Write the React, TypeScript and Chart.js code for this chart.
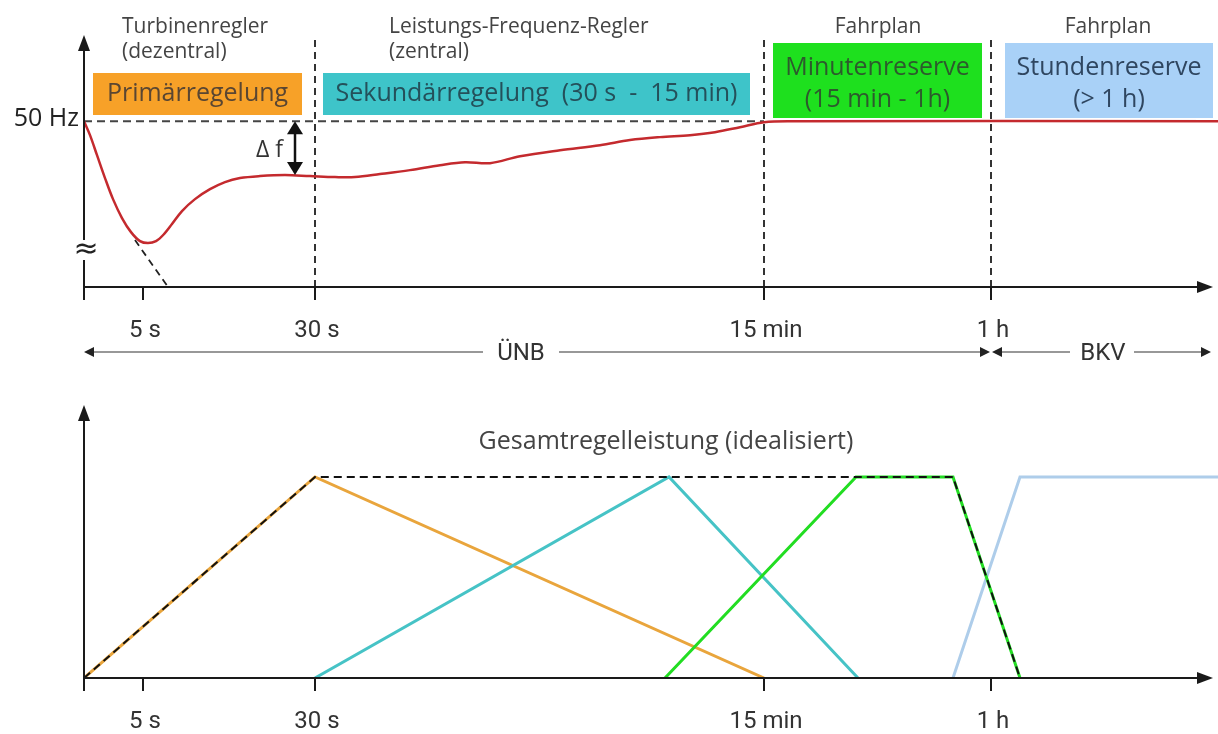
import React, { useEffect, useRef } from "react";
import { Chart, registerables } from "chart.js";
Chart.register(...registerables);

// x units: diagram time positions (non-linear time compressed to a schematic axis)
const xTicks = [0, 59, 231, 680, 907];
const xTickLabels = ["", "5 s", "30 s", "15 min", "1 h"];
const xAxisEnd = 1129;
const xMax = 1134;

// top panel: frequency (50 Hz = 100)
const freqX = [0, 6, 13, 21, 29, 38, 47, 56, 64, 72, 80, 88, 98, 111, 126, 141, 156, 176, 201, 226, 251, 271, 296, 326, 356, 381, 406, 436, 476, 516, 546, 576, 606, 631, 656, 680, 706, 1134];
const freqY = [100, 91.6, 79.5, 65.7, 53.0, 41.6, 33.1, 27.7, 26.5, 27.7, 31.9, 38.0, 45.8, 53.0, 59.0, 63.3, 65.7, 66.9, 67.5, 66.9, 66.3, 66.3, 68.1, 70.5, 73.5, 75.3, 74.7, 78.9, 82.5, 85.5, 88.6, 90.4, 91.6, 93.4, 96.4, 99.4, 100, 100];
const nominalX = [0, 680];
const nominalY = [100, 100];
const extX = [51, 84];
const extY = [28.3, 0];
const dividerX = [231, 680, 907];
const dividerTop = 149;

// bottom panel: control power (100 = full)
const primX = [0, 231, 680];
const primY = [0, 100, 0];
const sekX = [231, 585, 774];
const sekY = [0, 100, 0];
const minX = [581, 772, 869, 936];
const minY = [0, 100, 100, 0];
const stdX = [869, 936, 1134];
const stdY = [0, 100, 100];
const totX = [0, 231, 869, 936];
const totY = [0, 100, 100, 0];

const boxes = [
  { x0: 9, x1: 218, y0: 73, y1: 115, color: "#F7A128", text: ["Primärregelung"], tc: "#5a4632" },
  { x0: 239, x1: 666, y0: 73, y1: 115, color: "#3EC4C9", text: ["Sekundärregelung  (30 s  -  15 min)"], tc: "#24505a" },
  { x0: 689, x1: 898, y0: 43, y1: 118, color: "#1EE01E", text: ["Minutenreserve", "(15 min - 1h)"], tc: "#2d5a2d" },
  { x0: 921, x1: 1129, y0: 43, y1: 118, color: "#A9D1F7", text: ["Stundenreserve", "(> 1 h)"], tc: "#2f4660" },
];

const pts = (xs: number[], ys: number[]) => xs.map((x, i) => ({ x, y: ys[i] }));

const SANS = '"Open Sans", "Noto Sans", sans-serif';
const NARROW = '"Roboto", sans-serif';

function arrowHead(ctx: CanvasRenderingContext2D, x: number, y: number, dir: string, len = 14, half = 6) {
  ctx.beginPath();
  if (dir === "up") { ctx.moveTo(x, y); ctx.lineTo(x - half, y + len); ctx.lineTo(x + half, y + len); }
  if (dir === "down") { ctx.moveTo(x, y); ctx.lineTo(x - half, y - len); ctx.lineTo(x + half, y - len); }
  if (dir === "right") { ctx.moveTo(x, y); ctx.lineTo(x - len, y - half); ctx.lineTo(x - len, y + half); }
  if (dir === "left") { ctx.moveTo(x, y); ctx.lineTo(x + len, y - half); ctx.lineTo(x + len, y + half); }
  ctx.closePath();
  ctx.fill();
}

function drawAxes(chart: any, ctx: CanvasRenderingContext2D, labelY: number) {
  const xs = chart.scales.x, ys = chart.scales.y;
  const x0 = xs.getPixelForValue(0), y0 = ys.getPixelForValue(0);
  const top = chart.chartArea.top;
  ctx.save();
  ctx.strokeStyle = "#1a1a1a"; ctx.fillStyle = "#1a1a1a"; ctx.lineWidth = 2;
  ctx.beginPath(); ctx.moveTo(x0, y0); ctx.lineTo(x0, top + 10); ctx.stroke();
  arrowHead(ctx, x0, top, "up", 16, 6);
  const xe = xs.getPixelForValue(xAxisEnd);
  ctx.beginPath(); ctx.moveTo(x0, y0); ctx.lineTo(xe - 10, y0); ctx.stroke();
  arrowHead(ctx, xe, y0, "right", 16, 6);
  ctx.fillStyle = "#333";
  ctx.font = `24px ${NARROW}`; ctx.textAlign = "center"; ctx.textBaseline = "middle";
  xTicks.forEach((v, i) => {
    const px = xs.getPixelForValue(v);
    ctx.beginPath(); ctx.moveTo(px, y0); ctx.lineTo(px, y0 + 13); ctx.stroke();
    if (xTickLabels[i]) ctx.fillText(xTickLabels[i], px + 2, labelY);
  });
  ctx.restore();
}

const topPlugin = {
  id: "topDeco",
  beforeDatasetsDraw(chart: any) {
    const ctx = chart.ctx as CanvasRenderingContext2D;
    const xs = chart.scales.x;
    ctx.save();
    boxes.forEach((b) => {
      const l = xs.getPixelForValue(b.x0), r = xs.getPixelForValue(b.x1);
      ctx.fillStyle = b.color;
      ctx.fillRect(l, b.y0, r - l, b.y1 - b.y0);
      ctx.fillStyle = b.tc;
      ctx.font = `25px ${SANS}`; ctx.textAlign = "center"; ctx.textBaseline = "middle";
      const cx = (l + r) / 2;
      if (b.text.length === 1) ctx.fillText(b.text[0], cx, (b.y0 + b.y1) / 2);
      else { ctx.fillText(b.text[0], cx, b.y0 + 25); ctx.fillText(b.text[1], cx, b.y0 + 57); }
    });
    ctx.restore();
  },
  afterDatasetsDraw(chart: any) {
    const ctx = chart.ctx as CanvasRenderingContext2D;
    const xs = chart.scales.x, ys = chart.scales.y;
    drawAxes(chart, ctx, 331);
    ctx.save();
    const x0 = xs.getPixelForValue(0);
    // axis break
    ctx.fillStyle = "#fff"; ctx.fillRect(x0 - 6, 240, 12, 20);
    ctx.fillStyle = "#222"; ctx.font = `30px "DejaVu Sans", sans-serif`; ctx.textAlign = "center"; ctx.textBaseline = "middle";
    ctx.fillText("≈", x0 + 2, 250);
    // 50 Hz
    ctx.font = `25px ${SANS}`; ctx.textAlign = "right"; ctx.fillStyle = "#222";
    ctx.fillText("50 Hz", x0 - 5, 119);
    // delta f arrow
    const dx = xs.getPixelForValue(211);
    const yt = ys.getPixelForValue(100), yb = ys.getPixelForValue(67.5);
    ctx.strokeStyle = "#111"; ctx.fillStyle = "#111"; ctx.lineWidth = 2.5;
    ctx.beginPath(); ctx.moveTo(dx, yt + 10); ctx.lineTo(dx, yb - 10); ctx.stroke();
    arrowHead(ctx, dx, yt, "up", 13, 8);
    arrowHead(ctx, dx, yb, "down", 13, 8);
    ctx.fillStyle = "#333"; ctx.font = `23px ${SANS}`; ctx.textAlign = "right";
    ctx.fillText("Δ f", dx - 12, 150);
    // headings
    ctx.fillStyle = "#444"; ctx.font = `21px ${SANS}`; ctx.textAlign = "left";
    ctx.fillText("Turbinenregler", 122, 27);
    ctx.fillText("(dezentral)", 122, 52);
    ctx.fillText("Leistungs-Frequenz-Regler", 389, 27);
    ctx.fillText("(zentral)", 389, 52);
    ctx.textAlign = "center";
    ctx.fillText("Fahrplan", 878, 27);
    ctx.fillText("Fahrplan", 1108, 27);
    // ÜNB / BKV
    const ly = 352;
    ctx.strokeStyle = "#777"; ctx.fillStyle = "#222"; ctx.lineWidth = 1.5;
    const unbL = x0, unbR = xs.getPixelForValue(906), bkvL = xs.getPixelForValue(908), bkvR = xs.getPixelForValue(xAxisEnd - 2);
    ctx.beginPath();
    ctx.moveTo(unbL + 8, ly); ctx.lineTo(483, ly);
    ctx.moveTo(559, ly); ctx.lineTo(unbR - 8, ly);
    ctx.moveTo(bkvL + 8, ly); ctx.lineTo(1070, ly);
    ctx.moveTo(1134, ly); ctx.lineTo(bkvR - 8, ly);
    ctx.stroke();
    arrowHead(ctx, unbL, ly, "left", 10, 5);
    arrowHead(ctx, unbR, ly, "right", 10, 5);
    arrowHead(ctx, bkvL, ly, "left", 10, 5);
    arrowHead(ctx, bkvR, ly, "right", 10, 5);
    ctx.font = `24px ${NARROW}`; ctx.textAlign = "center"; ctx.fillStyle = "#333";
    ctx.fillText("ÜNB", 521, ly + 2);
    ctx.fillText("BKV", 1103, ly + 2);
    ctx.restore();
  },
};

const bottomPlugin = {
  id: "bottomDeco",
  afterDatasetsDraw(chart: any) {
    const ctx = chart.ctx as CanvasRenderingContext2D;
    drawAxes(chart, ctx, 352);
    ctx.save();
    ctx.fillStyle = "#444"; ctx.font = `25px ${SANS}`; ctx.textAlign = "center"; ctx.textBaseline = "middle";
    ctx.fillText("Gesamtregelleistung (idealisiert)", 666, 72);
    ctx.restore();
  },
};

function line(data: any[], color: string, width: number, dash: number[] = [], tension = 0) {
  return {
    data, borderColor: color, borderWidth: width, borderDash: dash, tension,
    pointRadius: 0, fill: false, showLine: true, borderCapStyle: "butt", borderJoinStyle: "miter",
  };
}

function baseOptions(pad: any, yMax: number) {
  return {
    animation: false, responsive: false, devicePixelRatio: 1,
    layout: { padding: pad },
    plugins: { legend: { display: false }, tooltip: { enabled: false } },
    scales: {
      x: { type: "linear", min: 0, max: xMax, display: false },
      y: { type: "linear", min: 0, max: yMax, display: false },
    },
  };
}

export default function App() {
  const topRef = useRef<HTMLCanvasElement>(null);
  const botRef = useRef<HTMLCanvasElement>(null);
  useEffect(() => {
    const dividers = dividerX.map((x) =>
      line([{ x, y: 0 }, { x, y: dividerTop }], "#333", 2, [7, 5])
    );
    // Chart.js paints the first dataset on top
    const top = new Chart(topRef.current!, {
      type: "line",
      data: {
        datasets: [
          line(pts(freqX, freqY), "#C42A2E", 2.5, [], 0.35),
          line(pts(nominalX, nominalY), "#444", 2, [8, 5]),
          line(pts(extX, extY), "#222", 1.8, [7, 5]),
          ...dividers,
        ] as any,
      },
      options: baseOptions({ left: 84, right: 0, top: 35, bottom: 83 }, 152) as any,
      plugins: [topPlugin],
    });
    const bot = new Chart(botRef.current!, {
      type: "line",
      data: {
        datasets: [
          line(pts(totX, totY), "#111", 2, [8, 5]),
          line(pts(minX, minY), "#22DD22", 3),
          line(pts(stdX, stdY), "#AECDEA", 3),
          line(pts(sekX, sekY), "#46C3C6", 3),
          line(pts(primX, primY), "#E9A53C", 3),
        ] as any,
      },
      options: baseOptions({ left: 84, right: 0, top: 35, bottom: 56 }, 135.8) as any,
      plugins: [bottomPlugin],
    });
    return () => { top.destroy(); bot.destroy(); };
  }, []);
  return (
    <div style={{ position: "fixed", left: 0, top: 0, width: 1218, height: 734, background: "#fff" }}>
      <canvas ref={topRef} width={1218} height={370} style={{ position: "absolute", left: 0, top: 0 }} />
      <canvas ref={botRef} width={1218} height={364} style={{ position: "absolute", left: 0, top: 370 }} />
    </div>
  );
}
